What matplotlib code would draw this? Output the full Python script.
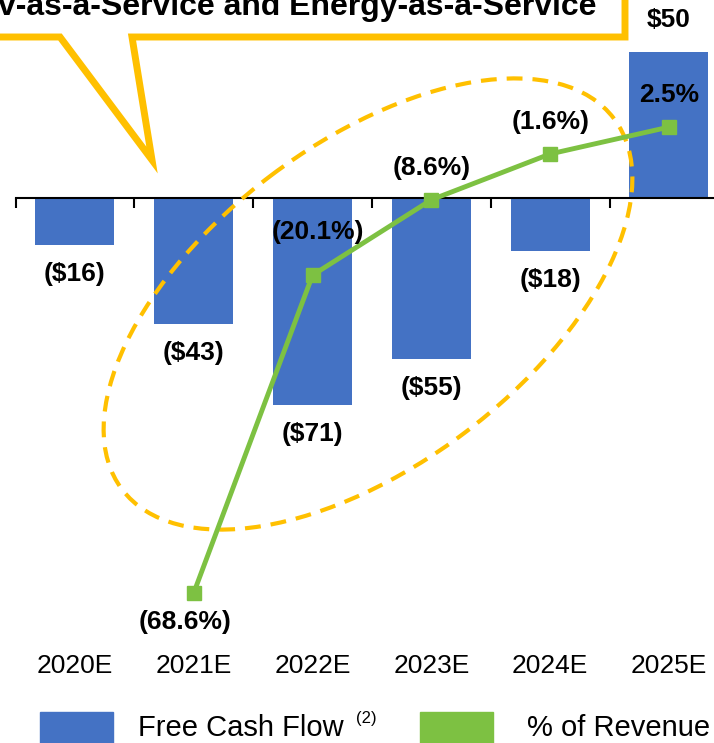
import matplotlib.pyplot as plt
from matplotlib.patches import Ellipse, Polygon, Rectangle

plt.rcParams['font.family'] = ['Liberation Sans', 'DejaVu Sans']

# data
years = ['2020E', '2021E', '2022E', '2023E', '2024E', '2025E']
fcf = [-16, -43, -71, -55, -18, 50]
fcf_labels = ['($16)', '($43)', '($71)', '($55)', '($18)', '$50']
pct_years = ['2021E', '2022E', '2023E', '2024E', '2025E']
pct_rev = [-68.6, -20.1, -8.6, -1.6, 2.5]
pct_labels = ['(68.6%)', '(20.1%)', '(8.6%)', '(1.6%)', '2.5%']

BLUE = '#4472C4'
GREEN = '#7DC142'
GOLD = '#FFC000'

W, H = 714, 743
fig = plt.figure(figsize=(W / 100, H / 100), dpi=100)

# main axes covers pixel rows 0..640 of the image
ax = fig.add_axes([0, (H - 640) / H, 1, 640 / H])
ax.set_zorder(1)
x = list(range(len(years)))
ax.bar(x, fcf, width=0.665, color=BLUE, zorder=2)

for xi, v, lab in zip(x, fcf, fcf_labels):
    off = 23 if v > 0 else -21
    ax.annotate(lab, (xi, v), xytext=(0, off), textcoords='offset points',
                ha='center', va='center', fontsize=19, fontweight='bold')

for s in ['top', 'left', 'right']:
    ax.spines[s].set_visible(False)
ax.spines['bottom'].set_position(('data', 0))
ax.spines['bottom'].set_bounds(-0.5, 6)
ax.spines['bottom'].set_linewidth(1.5)
ax.set_xticks([i - 0.5 for i in range(len(years) + 1)])
ax.set_xticklabels([])
ax.tick_params(axis='x', direction='out', length=7, width=1.5)
ax.set_yticks([])
ax.set_xlim(-0.631, 5.379)
ax.set_ylim(-151.4, 67.8)
for xi, yr in zip(x, years):
    ax.text(xi, -0.04, yr, transform=ax.get_xaxis_transform(),
            ha='center', va='center', fontsize=19)

# % of revenue on a twin axis
ax2 = ax.twinx()
ax2.set_zorder(3)
ax2.patch.set_visible(False)
px = [years.index(y) for y in pct_years]
ax2.plot(px, pct_rev, color=GREEN, lw=3.5, marker='s', ms=10, zorder=3)
ax2.set_xlim(-0.631, 5.379)
ax2.set_ylim(-75.8, 21.9)
ax2.axis('off')
pct_off = [(-6, -21), (4, 31), (0, 23), (0, 23), (0, 23)]
for xi, v, lab, o in zip(px, pct_rev, pct_labels, pct_off):
    ax2.annotate(lab, (xi, v), xytext=o, textcoords='offset points',
                 ha='center', va='center', fontsize=19, fontweight='bold')

# overlay in image pixels for the callout, ellipse and legend
ov = fig.add_axes([0, 0, 1, 1])
ov.set_zorder(2)
ov.patch.set_visible(False)
ov.set_xlim(0, W)
ov.set_ylim(H, 0)
ov.axis('off')

ov.add_patch(Ellipse((368, 304), 616, 322, angle=-37, fill=False,
                     ec=GOLD, lw=3, linestyle=(0, (3.8, 2.4))))

callout = [(-20, -20), (625, -20), (625, 37), (132, 37), (152, 160),
           (60, 37), (-20, 37)]
ov.add_patch(Polygon(callout, closed=True, fc='white', ec=GOLD, lw=5,
                     joinstyle='miter'))
ov.text(597, 15, 'v-as-a-Service and Energy-as-a-Service', ha='right',
        va='baseline', fontsize=23, fontweight='bold')

ov.add_patch(Rectangle((40, 712), 73, 31, color=BLUE))
ov.add_patch(Rectangle((420, 712), 73, 31, color=GREEN))
ov.text(138, 728, 'Free Cash Flow', ha='left', va='center', fontsize=21)
ov.text(356, 719, '(2)', ha='left', va='center', fontsize=12)
ov.text(527, 728, '% of Revenue', ha='left', va='center', fontsize=21)

fig.savefig('out.png', dpi=100)
